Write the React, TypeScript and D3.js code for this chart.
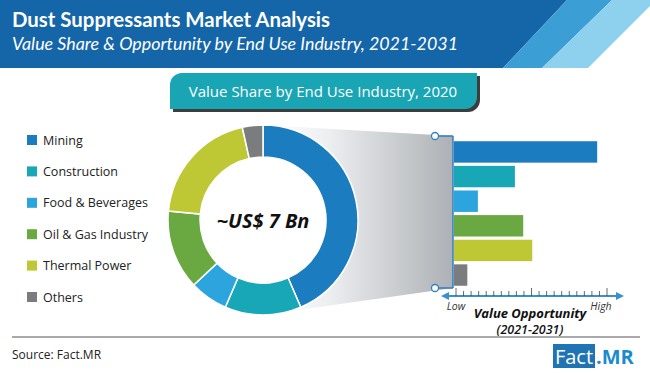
import React from 'react';
import * as d3 from 'd3';

// end use industries, shared by donut, legend and bars
const categories = ['Mining', 'Construction', 'Food & Beverages', 'Oil & Gas Industry', 'Thermal Power', 'Others'];
const colors = ['#1b7cc0', '#17a7b7', '#2ca5df', '#6aa941', '#bec734', '#7b7c7e'];
// value share 2020 (%)
const shares = [43.5, 13, 6.5, 13.5, 20, 3.5];
// relative value opportunity 2021-2031 (low..high index 0-10)
const opportunity = [9.35, 3.9, 1.45, 4.45, 5.05, 0.75];
const axisTicks = d3.range(0, 10.01, 0.5);

const W = 650;
const H = 373;
const FONT = "'Open Sans', sans-serif";

const App = () => {
  const cx = 263;
  const cy = 220;
  const outerR = 95;
  const innerR = 63;

  const pie = d3.pie<number>().sort(null).value(d => d);
  const arcs = pie(shares);
  const arc = d3.arc<d3.PieArcDatum<number>>().innerRadius(innerR).outerRadius(outerR);

  const lineX = 453;
  const x = d3.scaleLinear().domain([0, 10]).range([456, 607]);
  const y = d3.scaleBand().domain(categories).range([140, 287]).paddingInner(0.13).paddingOuter(0.05);
  const axisY = 296;

  const legendY = d3.scalePoint().domain(categories).range([140, 297]);

  return (
    <svg width={W} height={H} style={{ position: 'fixed', left: 0, top: 0, background: '#fff' }}>
      <defs>
        <linearGradient id="funnel" x1="0" x2="1" y1="0" y2="0">
          <stop offset="0" stopColor="#ffffff" />
          <stop offset="0.35" stopColor="#eceef0" />
          <stop offset="1" stopColor="#adb0b4" />
        </linearGradient>
      </defs>

      {/* header band */}
      <polygon points="0,0 567,0 503,68 0,68" fill="#1565a9" />
      <polygon points="567,0 612,0 542,68 503,68" fill="#3b9fd6" />
      <polygon points="612,0 650,0 650,6 588,68 542,68" fill="#8dd1ee" />
      <text x={12} y={27} fill="#fff" fontFamily="Lato, sans-serif" fontWeight="bold" fontSize={20}
        textLength={318} lengthAdjust="spacingAndGlyphs">
        Dust Suppressants Market Analysis
      </text>
      <text x={12} y={50} fill="#fff" fontFamily="Lato, sans-serif" fontStyle="italic" fontSize={17.5}
        textLength={446} lengthAdjust="spacingAndGlyphs">
        Value Share &amp; Opportunity by End Use Industry, 2021-2031
      </text>

      {/* pill heading */}
      <path d="M185,76 H480 V100 a12,12 0 0 1 -12,12 H173 V88 a12,12 0 0 1 12,-12 Z" fill="#3d3d3d" />
      <path d="M182,73 H477 V97 a12,12 0 0 1 -12,12 H170 V85 a12,12 0 0 1 12,-12 Z" fill="#1aa5b5" />
      <text x={323} y={97} textAnchor="middle" fill="#fff" fontFamily={FONT} fontSize={15}>
        Value Share by End Use Industry, 2020
      </text>

      {/* legend */}
      {categories.map((c, i) => (
        <g key={c} transform={`translate(27,${legendY(c)})`}>
          <rect x={0} y={-5} width={10} height={10} fill={colors[i]} />
          <text x={16} y={4.5} fontFamily={FONT} fontSize={12.5} fill="#222">{c}</text>
        </g>
      ))}

      {/* funnel from donut to bars */}
      <polygon points={`${cx},${cy - outerR} ${lineX},136 ${lineX},288 ${cx},${cy + outerR}`} fill="url(#funnel)" />

      {/* donut */}
      <g transform={`translate(${cx},${cy})`}>
        <circle r={innerR} fill="#fff" />
        {arcs.map((a, i) => (
          <path key={i} d={arc(a) || ''} fill={colors[i]} stroke="#fff" strokeWidth={1.5} />
        ))}
        <text y={8} textAnchor="middle" fontFamily={FONT} fontWeight="bold" fontStyle="italic" fontSize={20} fill="#111">
          ~US$ 7 Bn
        </text>
      </g>

      {/* connector */}
      <line x1={435} x2={lineX} y1={136} y2={136} stroke="#2f7fc1" strokeWidth={1.5} />
      <line x1={435} x2={lineX} y1={288} y2={288} stroke="#2f7fc1" strokeWidth={1.5} />
      <line x1={lineX} x2={lineX} y1={136} y2={288} stroke="#2f7fc1" strokeWidth={1.5} />
      <circle cx={435} cy={136} r={3.5} fill="#fff" stroke="#2f7fc1" strokeWidth={1.3} />
      <circle cx={435} cy={288} r={3.5} fill="#fff" stroke="#2f7fc1" strokeWidth={1.3} />

      {/* opportunity bars */}
      {categories.map((c, i) => (
        <rect key={c} x={lineX + 1} y={y(c)} width={x(opportunity[i]) - lineX - 1} height={y.bandwidth()} fill={colors[i]} />
      ))}

      {/* axis */}
      <line x1={446} x2={619} y1={axisY} y2={axisY} stroke="#3a8fd0" strokeWidth={2} />
      <polygon points={`441,${axisY} 449,${axisY - 4} 449,${axisY + 4}`} fill="#3a8fd0" />
      <polygon points={`624,${axisY} 616,${axisY - 4} 616,${axisY + 4}`} fill="#3a8fd0" />
      {axisTicks.map((t, i) => (
        <line key={i} x1={x(t)} x2={x(t)} y1={axisY - (i % 10 === 0 ? 8 : 5)} y2={axisY} stroke="#444" strokeWidth={0.8} />
      ))}
      <text x={x(0)} y={310} textAnchor="middle" fontFamily={FONT} fontStyle="italic" fontSize={10.5} fill="#333">Low</text>
      <text x={x(10) - 6} y={310} textAnchor="middle" fontFamily={FONT} fontStyle="italic" fontSize={10.5} fill="#333">High</text>
      <text x={530} y={318} textAnchor="middle" fontFamily={FONT} fontStyle="italic" fontWeight="bold" fontSize={13} fill="#111">
        Value Opportunity
      </text>
      <text x={530} y={334} textAnchor="middle" fontFamily={FONT} fontStyle="italic" fontWeight="600" fontSize={12.5} fill="#111">
        (2021-2031)
      </text>

      {/* footer */}
      <line x1={12} x2={640} y1={337} y2={337} stroke="#555" strokeWidth={1.2} />
      <text x={12} y={359} fontFamily={FONT} fontSize={12} fill="#222">Source: Fact.MR</text>
      <rect x={553} y={344} width={42} height={24} fill="#1f74b4" />
      <text x={574} y={364} textAnchor="middle" fontFamily={FONT} fontSize={20} fill="#fff">Fact</text>
      <text x={596} y={364} fontFamily={FONT} fontWeight="bold" fontSize={20} fill="#1b8bd0">.MR</text>
    </svg>
  );
};

export default App;
